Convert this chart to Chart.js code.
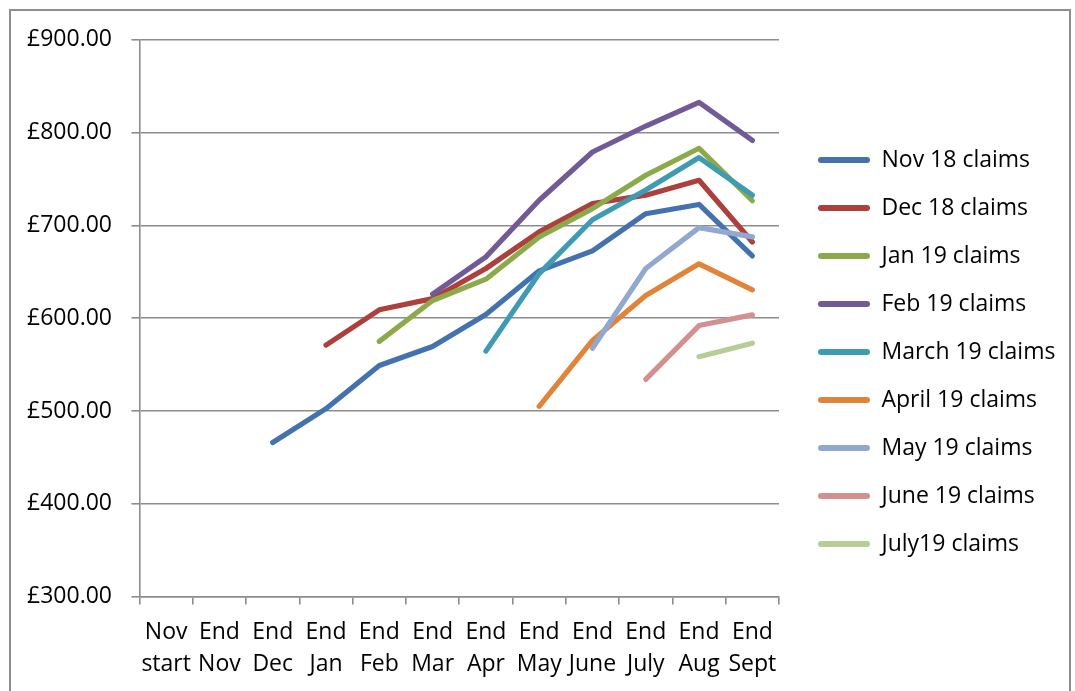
<!DOCTYPE html>
<html>
<head>
<meta charset="utf-8">
<script src="https://cdn.jsdelivr.net/npm/chart.js@4.4.1/dist/chart.umd.min.js"></script>
<style>
  html, body { margin: 0; padding: 0; background: #ffffff; }
  #wrap { position: relative; width: 1075px; height: 691px; overflow: hidden; }
  #frame { position: absolute; left: 9px; top: 9px; width: 1062px; height: 720px; border: 2px solid #8e8e8e; box-sizing: border-box; }
  canvas { position: absolute; left: 0; top: 0; }
</style>
</head>
<body>
<div id="wrap">
  <div id="frame"></div>
  <canvas id="c" width="1075" height="691"></canvas>
</div>
<script>
const categories = [
  ['Nov', 'start'], ['End', 'Nov'], ['End', 'Dec'], ['End', 'Jan'], ['End', 'Feb'], ['End', 'Mar'],
  ['End', 'Apr'], ['End', 'May'], ['End', 'June'], ['End', 'July'], ['End', 'Aug'], ['End', 'Sept']
];
const seriesNames = ['Nov 18 claims', 'Dec 18 claims', 'Jan 19 claims', 'Feb 19 claims', 'March 19 claims',
  'April 19 claims', 'May 19 claims', 'June 19 claims', 'July19 claims'];
const nov18 = [null, null, 466, 502.5, 549, 569.5, 604, 651, 672.5, 712.5, 722.5, 667];
const dec18 = [null, null, null, 571, 609, 621, 653.5, 693, 723.5, 732.5, 748.5, 682];
const jan19 = [null, null, null, null, 575, 619, 642, 687.5, 718, 754, 783, 726.5];
const feb19 = [null, null, null, null, null, 626, 666, 727, 779, 807, 832.5, 791.5];
const mar19 = [null, null, null, null, null, null, 564.5, 648, 706, 738, 773, 732.5];
const apr19 = [null, null, null, null, null, null, null, 505, 576, 624.5, 658.5, 630.5];
const may19 = [null, null, null, null, null, null, null, null, 567.5, 653.5, 697.5, 687.5];
const jun19 = [null, null, null, null, null, null, null, null, null, 534, 592, 603.5];
const jul19 = [null, null, null, null, null, null, null, null, null, null, 558.5, 573];
const seriesValues = [nov18, dec18, jan19, feb19, mar19, apr19, may19, jun19, jul19];
const seriesColors = ['#4472AE', '#AD403D', '#8CAA4A', '#725A96', '#3F9AB4', '#E0843A', '#91A9CF', '#D19190', '#B6CD95'];
const yTicks = { min: 300, max: 900, step: 100 };

Chart.defaults.font.family = "'Open Sans', sans-serif";
Chart.defaults.font.size = 23;
Chart.defaults.color = '#000000';

const datasets = seriesNames.map((name, i) => ({
  label: name,
  data: seriesValues[i],
  borderColor: seriesColors[i],
  backgroundColor: seriesColors[i],
  borderWidth: 5.2,
  borderCapStyle: 'round',
  borderJoinStyle: 'round',
  pointRadius: 0,
  pointHoverRadius: 0,
  tension: 0,
  spanGaps: false,
  order: -i
}));

const legendFix = {
  id: 'legendFix',
  beforeInit(chart) {
    const lg = chart.legend;
    if (lg) {
      const origFit = lg.fit;
      lg.fit = function () { origFit.call(this); this.width = 282; };
    }
  }
};

new Chart(document.getElementById('c'), {
  type: 'line',
  data: { labels: categories, datasets },
  options: {
    responsive: false,
    animation: false,
    events: [],
    layout: { padding: { left: 0, right: 0, top: 39.7, bottom: 0 } },
    scales: {
      x: {
        type: 'category',
        offset: true,
        grid: { display: true, drawOnChartArea: false, drawTicks: true, tickLength: 8, color: '#8c8c8c', lineWidth: 1.6, offset: true },
        border: { display: true, color: '#8c8c8c', width: 1.6 },
        ticks: { autoSkip: false, maxRotation: 0, minRotation: 0, padding: 11.4, color: '#000', font: { size: 23, lineHeight: 32 / 23 } },
        afterFit(s) { s.height = 691 - 596.6; }
      },
      y: {
        type: 'linear',
        position: 'left',
        min: yTicks.min,
        max: yTicks.max,
        grid: { color: '#8c8c8c', lineWidth: 1.6, drawTicks: true, tickLength: 8 },
        border: { display: true, color: '#8c8c8c', width: 1.6 },
        ticks: {
          stepSize: yTicks.step,
          padding: 19.5,
          color: '#000',
          font: { size: 23 },
          callback: (v) => '£' + Number(v).toFixed(2)
        },
        afterFit(s) { s.width = 139.5; }
      },
      yr: {
        type: 'linear',
        position: 'right',
        display: true,
        grid: { display: false },
        border: { display: false },
        ticks: { display: false },
        afterFit(s) { s.width = 14; }
      }
    },
    plugins: {
      tooltip: { enabled: false },
      title: { display: false },
      legend: {
        display: true,
        position: 'right',
        align: 'start',
        fullSize: true,
        title: { display: true, text: '', font: { size: 20, lineHeight: 1 }, padding: { top: 63.8, bottom: 0 } },
        labels: {
          boxWidth: 52,
          boxHeight: 6,
          padding: 25,
          color: '#000',
          font: { size: 23 },
          sort: (a, b) => a.datasetIndex - b.datasetIndex,
          generateLabels(chart) {
            const items = Chart.defaults.plugins.legend.labels.generateLabels(chart);
            return items.map(it => Object.assign(it, {
              fillStyle: seriesColors[it.datasetIndex],
              strokeStyle: seriesColors[it.datasetIndex],
              lineWidth: 0,
              borderRadius: 3
            }));
          }
        }
      }
    }
  },
  plugins: [legendFix]
});
</script>
</body>
</html>
